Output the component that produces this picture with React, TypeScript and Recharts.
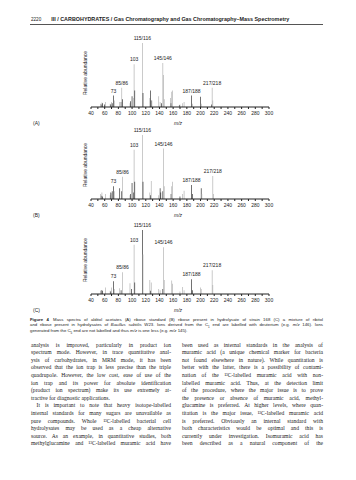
import React from "react"
import { BarChart, Bar, XAxis, YAxis, Cell, LabelList } from "recharts"

// m/z ticks shared by the three spectra
const mzTicks = [40, 50, 60, 70, 80, 90, 100, 110, 120, 130, 140, 150, 160, 170, 180, 190, 200, 210, 220, 230, 240, 250, 260, 270, 280, 290, 300]
const tagText = ["115/116", "103", "145/146", "85/86", "73", "187/188", "217/218"]

// (A) ribose standard
const greyMzA = [54, 56, 61, 68, 70, 74, 82, 85, 97, 102, 103, 115, 126, 129, 139, 141, 145, 146, 147, 156, 158, 159, 170, 174, 176, 188, 201, 217, 218]
const greyAbA = [5, 7, 8, 5, 8, 10, 8, 30, 6, 14, 67, 100, 14, 10, 17, 8, 69, 50, 12, 14, 24, 26, 4, 6, 8, 5, 5, 30, 10]
const blackMzA = [55, 57, 60, 69, 71, 73, 84, 86, 98, 100, 104, 116, 127, 128, 143, 157, 169, 187, 200, 216]
const blackAbA = [4, 6, 4, 4, 6, 18, 8, 12, 9, 17, 26, 22, 26, 10, 6, 6, 3, 18, 16, 4]
const tagMzA = [115, 103, 145, 85, 73, 187, 217]

// (B) ribose in hydrolysate of strain 168
const greyMzB = [54, 56, 61, 68, 70, 74, 86, 97, 103, 115, 126, 128, 139, 146, 147, 158, 159, 174, 176, 202, 218, 219]
const greyAbB = [8, 10, 8, 6, 9, 12, 35, 6, 77, 100, 10, 28, 6, 79, 20, 20, 27, 8, 13, 8, 36, 8]
const blackMzB = [55, 57, 69, 71, 73, 82, 85, 98, 100, 102, 104, 116, 127, 141, 142, 145, 157, 170, 187, 188, 201]
const blackAbB = [5, 4, 10, 12, 20, 17, 12, 8, 25, 10, 27, 27, 6, 17, 10, 12, 8, 4, 22, 8, 17]
const tagMzB = [115, 103, 146, 86, 73, 187, 218]

// (C) ribitol + ribose, B. subtilis W23
const greyMzC = [54, 56, 61, 68, 70, 74, 82, 86, 97, 103, 116, 126, 128, 139, 141, 146, 147, 158, 159, 170, 174, 176, 200, 201, 217, 218]
const greyAbC = [5, 6, 10, 5, 10, 8, 9, 34, 17, 77, 62, 22, 18, 8, 6, 73, 22, 21, 16, 4, 11, 6, 10, 8, 37, 14]
const blackMzC = [55, 57, 69, 73, 84, 99, 104, 115, 127, 145, 187, 188]
const blackAbC = [6, 5, 4, 20, 6, 8, 18, 100, 5, 8, 23, 6]
const tagMzC = [115, 103, 146, 86, 73, 187, 217]

const GREY = "#a9a9a9"
const BLACK = "#1b1b1b"
const sans = "'Liberation Sans', Arial, sans-serif"
const serif = "'Liberation Serif', 'Times New Roman', serif"

function buildRows(gMz: number[], gAb: number[], bMz: number[], bAb: number[], tagMz: number[]) {
  const rows = [
    ...gMz.map((mz, i) => ({ mz, ab: gAb[i], grey: true })),
    ...bMz.map((mz, i) => ({ mz, ab: bAb[i], grey: false })),
  ].sort((a, b) => a.mz - b.mz)
  return rows.map((r) => {
    const t = tagMz.indexOf(r.mz)
    return { ...r, tag: t >= 0 ? tagText[t] : undefined }
  })
}

function Spectrum({ top, rows, letter }: { top: number; rows: any[]; letter: string }) {
  const plotH = 69
  const padTop = 10
  return (
    <>
      <div style={{ position: "absolute", left: 0, top: top - padTop }}>
        <BarChart width={356} height={plotH + 14 + padTop} data={rows} margin={{ top: padTop, right: 87, left: 91, bottom: 0 }}>
          <XAxis
            dataKey="mz"
            type="number"
            domain={[40, 300]}
            ticks={mzTicks}
            interval={0}
            tickFormatter={(v: number) => (v % 20 === 0 ? String(v) : "")}
            tick={{ fontSize: 5, fill: "#222", fontFamily: sans }}
            tickSize={2}
            tickMargin={2}
            height={14}
            stroke="#222"
          />
          <YAxis width={0} domain={[0, 108]} tick={false} tickLine={false} stroke="#222" />
          <Bar dataKey="ab" barSize={1} isAnimationActive={false}>
            {rows.map((r, i) => (
              <Cell key={i} fill={r.grey ? GREY : BLACK} />
            ))}
            <LabelList dataKey="tag" position="top" offset={3} fontSize={5} fill="#222" fontFamily={sans} />
          </Bar>
        </BarChart>
      </div>
      <div style={{ position: "absolute", left: 85, top: top + plotH / 2, transform: "translate(-50%,-50%) rotate(-90deg)", whiteSpace: "nowrap", fontSize: 5, fontFamily: sans, color: "#222" }}>
        Relative abundance
      </div>
      <div style={{ position: "absolute", left: 33, top: top + plotH + 13, fontSize: 5, fontFamily: sans, color: "#222" }}>({letter})</div>
      <div style={{ position: "absolute", left: 174, top: top + plotH + 13, fontSize: 5, fontFamily: sans, fontStyle: "italic", color: "#222" }}>m/z</div>
    </>
  )
}

const leftLines = [
  "analysis is improved, particularly in product ion",
  "spectrum mode. However, in trace quantitative anal-",
  "ysis of carbohydrates, in MRM mode, it has been",
  "observed that the ion trap is less precise than the triple",
  "quadrupole. However, the low cost, ease of use of the",
  "ion trap and its power for absolute identification",
  "(product ion spectrum) make its use extremely at-",
  "tractive for diagnostic applications.",
  "\u2003It is important to note that heavy isotope-labelled",
  "internal standards for many sugars are unavailable as",
  "pure compounds. Whole ¹³C-labelled bacterial cell",
  "hydrolysates may be used as a cheap alternative",
  "source. As an example, in quantitative studies, both",
  "methylglucamine and ¹³C-labelled muramic acid have",
]
const rightLines = [
  "been used as internal standards in the analysis of",
  "muramic acid (a unique chemical marker for bacteria",
  "not found elsewhere in nature). While quantitation is",
  "better with the latter, there is a possibility of contami-",
  "nation of the ¹³C-labelled muramic acid with non-",
  "labelled muramic acid. Thus, at the detection limit",
  "of the procedure, where the major issue is to prove",
  "the presence or absence of muramic acid, methyl-",
  "glucamine is preferred. At higher levels, where quan-",
  "titation is the major issue, ¹³C-labelled muramic acid",
  "is preferred. Obviously an internal standard with",
  "both characteristics would be optimal and this is",
  "currently under investigation. Isomuramic acid has",
  "been described as a natural component of the",
]

function TextLine({ left, top, width, children, last, size, family }: any) {
  return (
    <div
      style={{
        position: "absolute",
        left,
        top,
        width,
        fontSize: size,
        lineHeight: "7px",
        fontFamily: family,
        color: "#222",
        whiteSpace: "nowrap",
        textAlign: "justify",
        textAlignLast: last ? "left" : "justify",
        overflow: "visible",
      }}
    >
      {children}
    </div>
  )
}

export default function App() {
  const rowsA = buildRows(greyMzA, greyAbA, blackMzA, blackAbA, tagMzA)
  const rowsB = buildRows(greyMzB, greyAbB, blackMzB, blackAbB, tagMzB)
  const rowsC = buildRows(greyMzC, greyAbC, blackMzC, blackAbC, tagMzC)
  const bodyTop = 341.5
  const step = 7.6
  return (
    <div style={{ position: "absolute", left: 0, top: 0, width: 356, height: 480, background: "#fff", overflow: "hidden" }}>
      <div style={{ position: "absolute", left: 31, top: 16, fontSize: 5.4, fontFamily: sans, color: "#222", whiteSpace: "nowrap" }}>
        <span style={{ fontSize: 4.6 }}>2220</span>
        <span style={{ display: "inline-block", width: 10 }} />
        <b>III / CARBOHYDRATES / Gas Chromatography and Gas Chromatography–Mass Spectrometry</b>
      </div>
      <div style={{ position: "absolute", left: 30, top: 23.5, width: 293, height: 1.3, background: "#555" }} />

      <Spectrum top={38} rows={rowsA} letter="A" />
      <Spectrum top={130} rows={rowsB} letter="B" />
      <Spectrum top={225} rows={rowsC} letter="C" />

      <TextLine left={30} top={315.5} width={293} size={4.3} family={sans}>
        <b>Figure 4</b>{"\u2003"}Mass spectra of alditol acetates (A) ribose standard (B) ribose present in hydrolysate of strain 168 (C) a mixture of ribitol
      </TextLine>
      <TextLine left={30} top={321} width={293} size={4.3} family={sans}>
        and ribose present in hydrolysates of <i>Bacillus subtilis</i> W23. Ions derived from the C<sub style={{ fontSize: 3 }}>1</sub> end are labelled with deuterium (e.g. <i>m/z</i> 146). Ions
      </TextLine>
      <TextLine left={30} top={326.5} width={293} size={4.3} family={sans} last>
        generated from the C<sub style={{ fontSize: 3 }}>5</sub> end are not labelled and thus <i>m/z</i> is one less (e.g. <i>m/z</i> 145).
      </TextLine>

      {leftLines.map((t, i) => (
        <TextLine key={"l" + i} left={31} top={bodyTop + i * step} width={140} size={5.6} family={serif} last={i === 7}>
          {t}
        </TextLine>
      ))}
      {rightLines.map((t, i) => (
        <TextLine key={"r" + i} left={182} top={bodyTop + i * step} width={141} size={5.6} family={serif}>
          {t}
        </TextLine>
      ))}
    </div>
  )
}
